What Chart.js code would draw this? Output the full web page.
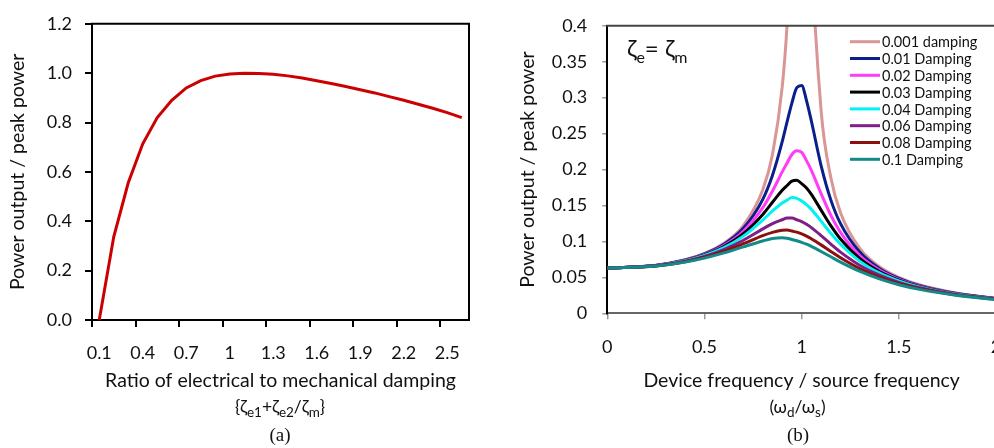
<!DOCTYPE html>
<html>
<head>
<meta charset="utf-8">
<script src="https://cdn.jsdelivr.net/npm/chart.js@4.4.1/dist/chart.umd.min.js"></script>
<style>
  html, body { margin: 0; padding: 0; background: #fff; overflow: hidden; width: 994px; height: 448px; }
  #leftChart { position: absolute; left: 0; top: 0; }
  #rightChart { position: absolute; left: 500px; top: 0; }
</style>
</head>
<body>
<canvas id="leftChart" width="500" height="448"></canvas>
<canvas id="rightChart" width="520" height="448"></canvas>
<script>
// ================= DATA =================
// (a) power vs damping ratio
const ratioLabels = ['0.1','0.2','0.3','0.4','0.5','0.6','0.7','0.8','0.9','1',
                     '1.1','1.2','1.3','1.4','1.5','1.6','1.7','1.8','1.9','2',
                     '2.1','2.2','2.3','2.4','2.5','2.6'];
const ratioTickLabels = ['0.1','0.4','0.7','1','1.3','1.6','1.9','2.2','2.5'];
const powerRatio = [0, 0.337, 0.556, 0.714, 0.82, 0.89, 0.94, 0.97, 0.988, 0.997,
                    1.0, 0.999, 0.996, 0.989, 0.98, 0.969, 0.958, 0.946, 0.933, 0.92,
                    0.905, 0.89, 0.874, 0.858, 0.84, 0.82];

// (b) power vs frequency ratio
const freqX = [0, 0.25, 0.4, 0.5, 0.6, 0.7, 0.8, 0.85, 0.9, 0.925, 0.95, 0.975,
               1.0, 1.025, 1.05, 1.1, 1.15, 1.2, 1.3, 1.4, 1.5, 1.6, 1.8, 2.0];
const damp0001 = [0.063, 0.0667, 0.0744, 0.0833, 0.0975, 0.1221, 0.1719, 0.2211, 0.3151, 0.4012, 0.5457, 0.7911,
                  0.988, 0.7599, 0.5118, 0.2825, 0.189, 0.14, 0.0899, 0.0648, 0.0499, 0.04, 0.0279, 0.0208];
const damp001  = [0.063, 0.0666, 0.0741, 0.0826, 0.096, 0.1182, 0.1586, 0.1921, 0.2388, 0.2663, 0.2927, 0.314,
                  0.317, 0.296, 0.2675, 0.2055, 0.1578, 0.1247, 0.0848, 0.0625, 0.0486, 0.0392, 0.0275, 0.0207];
const damp002  = [0.063, 0.0665, 0.0737, 0.0819, 0.0944, 0.1142, 0.147, 0.1702, 0.1968, 0.2092, 0.221, 0.226,
                  0.224, 0.2124, 0.1989, 0.1665, 0.1365, 0.1125, 0.0799, 0.0602, 0.0473, 0.0385, 0.0272, 0.0205];
const damp003  = [0.063, 0.0664, 0.0734, 0.0812, 0.0929, 0.1107, 0.1376, 0.1545, 0.1712, 0.1778, 0.184, 0.185,
                  0.1804, 0.1743, 0.1654, 0.1436, 0.1219, 0.1033, 0.0759, 0.0581, 0.0462, 0.0378, 0.0269, 0.0203];
const damp004  = [0.063, 0.0663, 0.0731, 0.0805, 0.0914, 0.1074, 0.1298, 0.1424, 0.1535, 0.1574, 0.161, 0.16,
                  0.1563, 0.1513, 0.1446, 0.1282, 0.1113, 0.096, 0.0723, 0.0562, 0.0451, 0.0371, 0.0266, 0.0201];
const damp006  = [0.063, 0.0661, 0.0725, 0.0792, 0.0887, 0.1017, 0.1174, 0.1249, 0.1302, 0.1325, 0.1325, 0.1302,
                  0.1276, 0.1238, 0.1192, 0.1081, 0.0963, 0.0851, 0.0666, 0.053, 0.0431, 0.0358, 0.026, 0.0198];
const damp008  = [0.063, 0.0659, 0.0718, 0.078, 0.0863, 0.0968, 0.1081, 0.1126, 0.1155, 0.1158, 0.1144, 0.1129,
                  0.1105, 0.1074, 0.1037, 0.0952, 0.0861, 0.0773, 0.062, 0.0502, 0.0414, 0.0347, 0.0254, 0.0195];
const damp01   = [0.063, 0.0657, 0.0712, 0.0768, 0.084, 0.0925, 0.1006, 0.104, 0.105, 0.1045, 0.1027, 0.101,
                  0.0988, 0.0961, 0.093, 0.086, 0.0786, 0.0712, 0.0582, 0.0479, 0.0398, 0.0336, 0.0249, 0.0192];

const dampSeries = [damp0001, damp001, damp002, damp003, damp004, damp006, damp008, damp01];
const dampLabels = ['0.001 damping', '0.01 Damping', '0.02 Damping', '0.03 Damping',
                    '0.04 Damping', '0.06 Damping', '0.08 Damping', '0.1 Damping'];
const dampColors = ['#d99694', '#0a1f8c', '#ff3cf8', '#000000', '#00f2f2', '#7f1f86', '#8b1010', '#138a8a'];

// ================= HELPERS =================
const FAMILY = 'Lato, "Open Sans", sans-serif';
const tickFont = { family: FAMILY, size: 18 };
const titleFont = { family: FAMILY, size: 19.5 };
const textColor = '#111';

// plain number, no trailing zeros (0.4 not 0.40)
const plainNum = v => String(Number(v.toFixed(3)));

// text with subscripts, pieces drawn one after another
function drawRuns(ctx, runs, x, baseline, size, subSize, subDrop, align) {
    let total = 0;
    runs.forEach(r => {
        ctx.font = (r.sub ? subSize : size) + 'px ' + FAMILY;
        r.w = ctx.measureText(r.t).width;
        total += r.w;
    });
    let cx = align === 'left' ? x : x - total / 2;
    ctx.textAlign = 'left';
    ctx.textBaseline = 'alphabetic';
    runs.forEach(r => {
        ctx.font = (r.sub ? subSize : size) + 'px ' + FAMILY;
        ctx.fillText(r.t, cx, baseline + (r.sub ? subDrop : 0));
        cx += r.w;
    });
}

// top + right border of the plot box
const framePlugin = {
    id: 'frame',
    afterDraw(chart, args, opts) {
        const { ctx, chartArea: a } = chart;
        ctx.save();
        ctx.lineWidth = 2;
        ctx.strokeStyle = opts.top;
        ctx.beginPath(); ctx.moveTo(a.left - 1, a.top); ctx.lineTo(a.right + 1, a.top); ctx.stroke();
        ctx.strokeStyle = opts.right;
        ctx.beginPath(); ctx.moveTo(a.right, a.top); ctx.lineTo(a.right, a.bottom); ctx.stroke();
        ctx.restore();
    }
};

const leftNotes = {
    id: 'leftNotes',
    afterDraw(chart) {
        const ctx = chart.ctx;
        ctx.save();
        ctx.fillStyle = textColor;
        drawRuns(ctx, [{ t: '{ζ' }, { t: 'e1', sub: true }, { t: '+ζ' }, { t: 'e2', sub: true },
                       { t: '/ζ' }, { t: 'm', sub: true }, { t: '}' }], 280, 413, 17.5, 13.5, 4);
        ctx.font = '19px "Liberation Serif", serif';
        ctx.textAlign = 'center';
        ctx.fillText('(a)', 280, 441);
        ctx.restore();
    }
};

const rightNotes = {
    id: 'rightNotes',
    afterDraw(chart) {
        const ctx = chart.ctx;
        ctx.save();
        ctx.fillStyle = textColor;
        drawRuns(ctx, [{ t: 'ζ' }, { t: 'e', sub: true }, { t: '= ζ' }, { t: 'm', sub: true }],
                 127, 57, 24, 16, 6, 'left');
        drawRuns(ctx, [{ t: '(ω' }, { t: 'd', sub: true }, { t: '/ω' }, { t: 's', sub: true }, { t: ')' }],
                 297.5, 413, 17.5, 13.5, 4);
        ctx.font = '19px "Liberation Serif", serif';
        ctx.textAlign = 'center';
        ctx.fillText('(b)', 298, 441);

        // legend
        ctx.font = '14.5px ' + FAMILY;
        ctx.textAlign = 'left';
        ctx.textBaseline = 'middle';
        ctx.lineWidth = 3;
        chart.data.datasets.forEach((ds, i) => {
            const y = 41.7 + i * 16.8;
            ctx.strokeStyle = ds.borderColor;
            ctx.beginPath(); ctx.moveTo(350, y); ctx.lineTo(380, y); ctx.stroke();
            ctx.fillStyle = textColor;
            ctx.fillText(ds.label, 382, y + 1);
        });
        ctx.restore();
    }
};

// ================= CHART (a) =================
new Chart(document.getElementById('leftChart'), {
    type: 'line',
    data: {
        labels: ratioLabels,
        datasets: [{ data: powerRatio, borderColor: '#cc0000', borderWidth: 3, pointRadius: 0, tension: 0 }]
    },
    options: {
        responsive: false, animation: false, devicePixelRatio: 1,
        layout: { padding: { top: 17, right: 31, left: 0, bottom: 0 } },
        plugins: { legend: { display: false }, tooltip: { enabled: false }, frame: { top: '#000', right: '#000' } },
        scales: {
            x: {
                type: 'category', offset: true,
                grid: { drawOnChartArea: false, offset: true, tickLength: 7, lineWidth: 2,
                        color: c => c.index % 3 === 0 ? '#000' : 'rgba(0,0,0,0)' },
                border: { color: '#000', width: 2 },
                ticks: { autoSkip: false, maxRotation: 0, minRotation: 0, padding: 15, color: textColor, font: tickFont,
                         callback: (v, i) => ratioTickLabels.includes(ratioLabels[i]) ? ratioLabels[i] : '' },
                title: { display: true, text: 'Ratio of electrical to mechanical damping', color: textColor,
                         font: titleFont, padding: { top: 0, bottom: 56 } },
                afterFit: s => { s.height = 128; }
            },
            y: {
                min: 0, max: 1.2,
                grid: { drawOnChartArea: false, tickLength: 7, lineWidth: 2, color: '#000' },
                border: { color: '#000', width: 2 },
                ticks: { stepSize: 0.2, padding: 13, color: textColor, font: tickFont, callback: v => v.toFixed(1) },
                title: { display: true, text: 'Power output / peak power', color: textColor,
                         font: titleFont, padding: { top: 6, bottom: 0 } },
                afterFit: s => { s.width = 92; }
            }
        }
    },
    plugins: [framePlugin, leftNotes]
});

// ================= CHART (b) =================
new Chart(document.getElementById('rightChart'), {
    type: 'line',
    data: {
        datasets: dampSeries.map((s, i) => ({
            label: dampLabels[i],
            data: freqX.map((x, j) => ({ x: x, y: s[j] })),
            borderColor: dampColors[i],
            borderWidth: 3,
            pointRadius: 0,
            cubicInterpolationMode: 'monotone',
            order: dampSeries.length - i,
            clip: 0
        }))
    },
    options: {
        responsive: false, animation: false, devicePixelRatio: 1,
        layout: { padding: { top: 18.3, right: 24, left: 0, bottom: 0 } },
        plugins: { legend: { display: false }, tooltip: { enabled: false }, frame: { top: '#444', right: '#444' } },
        scales: {
            x: {
                type: 'linear', min: 0, max: 2,
                grid: { drawOnChartArea: false, tickLength: 6, lineWidth: 1.5, color: '#999' },
                border: { color: '#666', width: 2 },
                ticks: { stepSize: 0.5, padding: 17, color: textColor, font: tickFont, callback: plainNum },
                title: { display: true, text: 'Device frequency / source frequency', color: textColor,
                         font: titleFont, padding: { top: 0, bottom: 56 } },
                afterFit: s => { s.height = 134.7; }
            },
            y: {
                min: 0, max: 0.4,
                grid: { drawOnChartArea: false, tickLength: 5, lineWidth: 1.5, color: '#999' },
                border: { color: '#000', width: 2 },
                ticks: { stepSize: 0.05, padding: 15, color: textColor, font: tickFont, callback: plainNum },
                title: { display: true, text: 'Power output / peak power', color: textColor,
                         font: titleFont, padding: { top: 16, bottom: 0 } },
                afterFit: s => { s.width = 107.3; }
            }
        }
    },
    plugins: [framePlugin, rightNotes]
});
</script>
</body>
</html>
